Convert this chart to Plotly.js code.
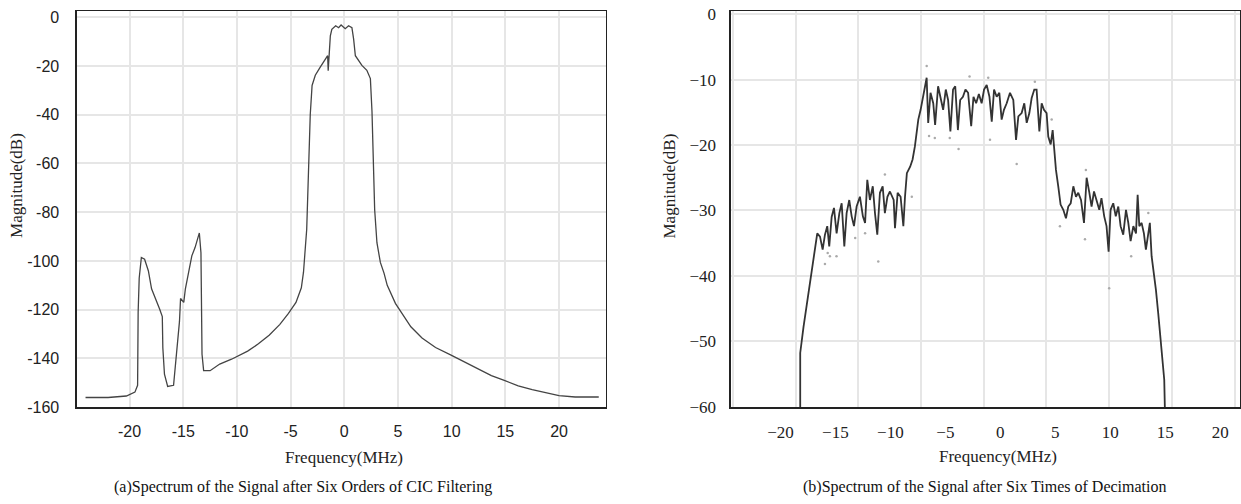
<!DOCTYPE html>
<html>
<head>
<meta charset="utf-8">
<script src="https://cdn.plot.ly/plotly-3.0.1.min.js"></script>
<style>html,body{margin:0;padding:0;background:#fff;}#chart{width:1241px;height:504px;}</style>
</head>
<body>
<div id="chart"></div>
<script>
// ---- (a) Spectrum after six orders of CIC filtering ----
const freqA = [-24.1,-22,-20.3,-19.8,-19.5,-19.25,-19.2,-19.1,-18.9,-18.6,-18.25,-17.95,-17.5,-17.2,-16.95,-16.9,-16.75,-16.45,-15.9,-15.75,-15.6,-15.35,-15.25,-14.95,-14.8,-14.5,-14.2,-13.9,-13.6,-13.5,-13.35,-13.25,-13.1,-12.5,-11.6,-10.5,-9,-8,-7,-6,-5.2,-4.5,-4,-3.8,-3.5,-3.3,-3.17,-3.0,-2.7,-2.24,-1.77,-1.55,-1.5,-1.42,-1.3,-1.16,-0.8,-0.53,-0.3,0.09,0.4,0.71,0.87,1.03,1.33,1.64,2.1,2.43,2.58,2.83,3.04,3.36,3.7,4.0,4.76,5.5,6.2,7.24,8.5,9.9,11.2,12.5,13.7,14.9,16.2,17.5,18.8,20.0,21.5,23.7];
const magA = [-156,-156,-155.4,-154.6,-153.8,-151,-121,-107,-98.6,-99.3,-104,-111.4,-116,-119.7,-122.8,-135.6,-146.4,-151.5,-151,-143.7,-135.6,-124.8,-115.4,-117,-111.4,-104.6,-97.9,-94.5,-90.5,-88.5,-96.6,-138.3,-145,-145,-142.3,-140.3,-137,-134,-130.5,-126,-121.5,-117,-111,-104.6,-87,-60,-40,-28,-23.8,-20.5,-17.1,-15.8,-22,-15.8,-7.7,-5,-3.5,-4.3,-3.2,-4.7,-3.5,-4.3,-9,-15.8,-17.8,-19.8,-21.8,-25.2,-38.7,-79,-92.5,-100.6,-105,-110,-117.4,-122.5,-127,-131.6,-135.5,-138.5,-141.5,-144.4,-147,-149,-151.2,-152.8,-154.2,-155.2,-155.8,-155.8];
const tickValsAX = [-20,-15,-10,-5,0,5,10,15,20];
const tickTextAX = ["-20","-15","-10","-5","0","5","10","15","20"];
const tickValsAY = [0,-20,-40,-60,-80,-100,-120,-140,-160];
const tickTextAY = ["0","-20","-40","-60","-80","-100","-120","-140","-160"];

// ---- (b) Spectrum after six times of decimation ----
const freqB = [-18.2,-18.2,-17.9,-17.56,-17.3,-17.07,-16.86,-16.65,-16.4,-16.16,-15.95,-15.74,-15.56,-15.34,-15.13,-14.89,-14.64,-14.43,-14.19,-13.98,-13.74,-13.52,-13.31,-13.07,-12.77,-12.5,-12.3,-12.1,-11.86,-11.6,-11.4,-11.19,-10.95,-10.7,-10.5,-10.27,-10.04,-9.7,-9.58,-9.34,-9.07,-8.82,-8.67,-8.5,-8.2,-7.98,-7.77,-7.6,-7.46,-7.25,-7.07,-6.92,-6.7,-6.56,-6.35,-6.1,-5.93,-5.66,-5.45,-5.2,-4.96,-4.75,-4.54,-4.3,-4.1,-3.86,-3.65,-3.4,-3.17,-2.93,-2.65,-2.44,-2.2,-1.95,-1.7,-1.48,-1.24,-0.99,-0.78,-0.57,-0.33,-0.09,0.12,0.33,0.58,0.88,1.18,1.43,1.64,1.94,2.18,2.4,2.64,2.85,3.09,3.3,3.55,3.76,3.97,4.21,4.36,4.58,4.76,4.88,5.06,5.27,5.48,5.73,5.97,6.18,6.4,6.64,6.88,7.09,7.34,7.61,7.85,8.1,8.3,8.52,8.76,9.0,9.2,9.45,9.66,9.85,10.03,10.27,10.5,10.73,10.94,11.18,11.43,11.64,11.85,12.1,12.34,12.49,12.64,12.85,13.06,13.24,13.46,13.6,13.76,13.97,14.15,14.36,14.52,14.76,14.91,14.97];
const magB = [-60.5,-51.8,-47.8,-43.7,-40.6,-38,-36,-33.5,-34,-36,-33.7,-32.4,-35.5,-31,-29.6,-33.5,-30.4,-28.9,-35.5,-30.4,-28.4,-30.9,-32.4,-29.4,-27.9,-30.9,-31.9,-25.3,-28.4,-26.3,-30.4,-33.7,-27.3,-26.3,-30.4,-27.9,-27.1,-28.4,-32.7,-27.3,-27.9,-32.4,-27.9,-24.3,-23.3,-22.2,-20.2,-17.7,-16.1,-14.6,-13.1,-12,-9.7,-16.6,-12,-13.6,-16.9,-11,-12.6,-14.6,-11.5,-13.1,-17.9,-11.5,-11,-17.7,-13.1,-12.6,-11.5,-12,-17.1,-12.6,-13.6,-12.2,-13.6,-11.5,-10.8,-12.6,-16.4,-11.5,-12.6,-12,-16.1,-14.6,-13.6,-12,-13.1,-19.2,-15.6,-15.1,-13.6,-16.6,-15.1,-12.8,-11.5,-11.5,-17.9,-13.6,-14.6,-15.1,-18.7,-19.9,-17.7,-20.2,-23.8,-26.3,-29.1,-29.9,-31.2,-29.4,-28.9,-26.3,-27.9,-27.3,-28.4,-31.9,-25,-27.3,-29.4,-27.1,-28.4,-29.9,-28.1,-30.9,-32.4,-36.3,-29.9,-28.9,-30.9,-29.4,-32.4,-33.7,-29.9,-31.9,-34.7,-32.4,-33.5,-27.6,-32.4,-31.9,-33.5,-36,-33.5,-31.9,-37,-39.6,-42.1,-45.7,-48.8,-52.9,-55.9,-60.5];
const dotFreqB = [-6.7,-11.1,-15.95,-15.5,-14.9,-13.2,-12.3,-10.5,-8.05,-3.8,-4.6,-6.48,-5.96,-2.8,1.49,-0.94,3.14,5.42,7.78,7.7,9.9,11.9,13.46,4.67,-1.1,-15.7];
const dotMagB = [-7.9,-37.8,-38.2,-37,-37,-34.2,-33.5,-24.5,-27.9,-20.6,-18.9,-18.6,-18.9,-9.5,-22.9,-19.2,-10.3,-32.4,-23.8,-34.4,-41.9,-37,-30.4,-16.1,-9.7,-36.5];
const tickValsBX = [-20,-15,-10,-5,0,5,10,15,20];
const tickValsBY = [0,-10,-20,-30,-40,-50,-60];

const serif = '"Liberation Serif", "DejaVu Serif", serif';
const sans = '"Liberation Sans", Arial, sans-serif';

const traces = [
  {x: freqA, y: magA, xaxis: 'x', yaxis: 'y', mode: 'lines', line: {color: '#444', width: 1.3}, showlegend: false, hoverinfo: 'skip'},
  {x: dotFreqB, y: dotMagB, xaxis: 'x2', yaxis: 'y2', mode: 'markers', marker: {color: '#aaa', size: 2.5}, showlegend: false, hoverinfo: 'skip'},
  {x: freqB, y: magB, xaxis: 'x2', yaxis: 'y2', mode: 'lines', line: {color: '#333', width: 1.8}, showlegend: false, hoverinfo: 'skip'},
  {x: [], y: [], xaxis: 'x3', yaxis: 'y2', mode: 'lines', showlegend: false, hoverinfo: 'skip'}
];

const gridCol = '#e6e6e6';
const frame = {showline: true, mirror: true, linecolor: '#222', linewidth: 1.5, zeroline: false};
const dom = [0.192, 0.978];

const layout = {
  width: 1241, height: 504,
  margin: {l: 0, r: 0, t: 0, b: 0},
  paper_bgcolor: '#fff', plot_bgcolor: '#fff',
  showlegend: false,
  xaxis: Object.assign({}, frame, {domain: [0.0620, 0.4881], anchor: 'y', range: [-24.9, 24.35],
    tickmode: 'array', tickvals: tickValsAX, ticktext: tickTextAX,
    ticks: 'outside', ticklen: 9, tickcolor: 'rgba(0,0,0,0)',
    showgrid: true, gridcolor: gridCol, gridwidth: 2,
    tickfont: {family: sans, size: 16, color: '#222'}}),
  yaxis: Object.assign({}, frame, {domain: dom, anchor: 'x', range: [-160, 2.5],
    tickmode: 'array', tickvals: tickValsAY, ticktext: tickTextAY,
    ticks: 'outside', ticklen: 13, tickcolor: 'rgba(0,0,0,0)',
    showgrid: true, gridcolor: gridCol, gridwidth: 2,
    tickfont: {family: sans, size: 16, color: '#222'}}),
  xaxis2: Object.assign({}, frame, {domain: [0.5890, 0.9992], anchor: 'y2', range: [-24.5, 21.8],
    tickmode: 'array', tickvals: tickValsBX,
    ticks: 'outside', ticklen: 9, tickcolor: 'rgba(0,0,0,0)',
    showgrid: false,
    tickfont: {family: serif, size: 17, color: '#222'}}),
  xaxis3: {overlaying: 'x2', anchor: 'y2', range: [-24.5, 21.8], tick0: -18.62, dtick: 5.705,
    showticklabels: false, ticks: '', showline: false, zeroline: false,
    showgrid: true, gridcolor: gridCol, gridwidth: 2},
  yaxis2: Object.assign({}, frame, {domain: dom, anchor: 'x2', range: [-60.1, 0.5],
    tickmode: 'array', tickvals: tickValsBY,
    ticks: 'outside', ticklen: 10, tickcolor: 'rgba(0,0,0,0)',
    showgrid: true, gridcolor: gridCol, gridwidth: 2,
    tickfont: {family: serif, size: 17, color: '#222'}}),
  annotations: [
    {text: 'Magnitude(dB)', xref: 'paper', yref: 'paper', x: 0.0137, y: 0.631, textangle: -90, showarrow: false, xanchor: 'center', yanchor: 'middle', font: {family: serif, size: 17, color: '#222'}},
    {text: 'Frequency(MHz)', xref: 'paper', yref: 'paper', x: 0.2772, y: 0.0913, showarrow: false, xanchor: 'center', yanchor: 'middle', font: {family: serif, size: 17, color: '#222'}},
    {text: '(a)Spectrum of the Signal after Six Orders of CIC Filtering', xref: 'paper', yref: 'paper', x: 0.2442, y: 0.0337, showarrow: false, xanchor: 'center', yanchor: 'middle', font: {family: serif, size: 16, color: '#111'}},
    {text: 'Magnitude(dB)', xref: 'paper', yref: 'paper', x: 0.5395, y: 0.631, textangle: -90, showarrow: false, xanchor: 'center', yanchor: 'middle', font: {family: serif, size: 17, color: '#222'}},
    {text: 'Frequency(MHz)', xref: 'paper', yref: 'paper', x: 0.8042, y: 0.0938, showarrow: false, xanchor: 'center', yanchor: 'middle', font: {family: serif, size: 17, color: '#222'}},
    {text: '(b)Spectrum of the Signal after Six Times of Decimation', xref: 'paper', yref: 'paper', x: 0.7937, y: 0.0337, showarrow: false, xanchor: 'center', yanchor: 'middle', font: {family: serif, size: 16, color: '#111'}}
  ]
};

Plotly.newPlot('chart', traces, layout, {staticPlot: true, displayModeBar: false});
</script>
</body>
</html>
